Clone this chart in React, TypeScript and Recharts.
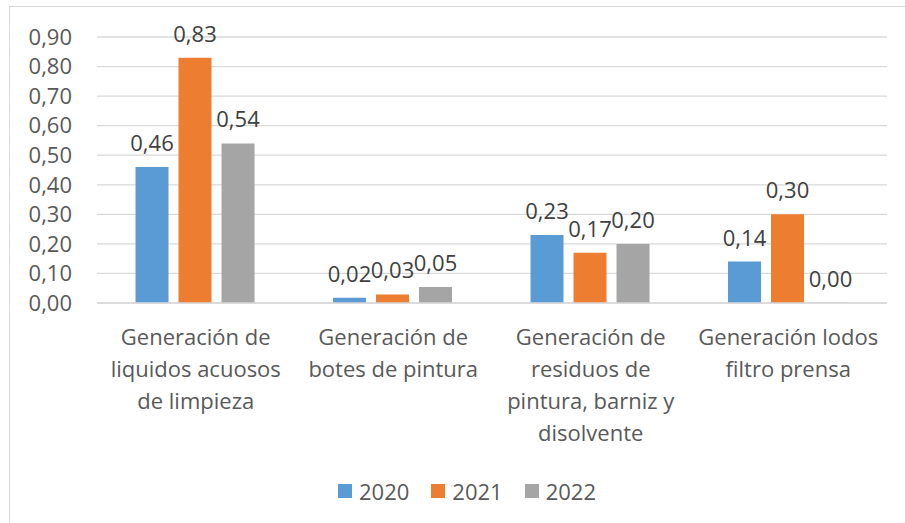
import { BarChart, Bar, XAxis, YAxis, CartesianGrid, Legend, LabelList } from "recharts";

const categories = [
  "Generación de\nliquidos acuosos\nde limpieza",
  "Generación de\nbotes de pintura",
  "Generación de\nresiduos de\npintura, barniz y\ndisolvente",
  "Generación lodos\nfiltro prensa",
];
const values2020 = [0.46, 0.018, 0.23, 0.14];
const values2021 = [0.83, 0.029, 0.17, 0.3];
const values2022 = [0.54, 0.054, 0.2, 0.001];
const yTicks = [0, 0.1, 0.2, 0.3, 0.4, 0.5, 0.6, 0.7, 0.8, 0.9];

const COLORS = { y2020: "#5B9BD5", y2021: "#ED7D31", y2022: "#A5A5A5" };
const FONT = "'Open Sans', sans-serif";
const TICK_COLOR = "#595959";
const FS = 22;

const data = categories.map((name, i) => ({
  name,
  y2020: values2020[i],
  y2021: values2021[i],
  y2022: values2022[i],
}));

const fmt = (v: unknown) => Number(v).toFixed(2).replace(".", ",");

function CategoryTick({ x, y, payload }: any) {
  const lines = String(payload.value).split("\n");
  return (
    <text x={x} y={y} textAnchor="middle" fill={TICK_COLOR} fontSize={FS} fontFamily={FONT}>
      {lines.map((line, i) => (
        <tspan key={i} x={x} dy={i === 0 ? 42 : 32}>
          {line}
        </tspan>
      ))}
    </text>
  );
}

function LegendContent() {
  const items = [
    { label: "2020", color: COLORS.y2020 },
    { label: "2021", color: COLORS.y2021 },
    { label: "2022", color: COLORS.y2022 },
  ];
  return (
    <div style={{ display: "flex", alignItems: "center", fontFamily: FONT, fontSize: FS, color: TICK_COLOR }}>
      {items.map((it) => (
        <div key={it.label} style={{ display: "flex", alignItems: "center", marginRight: 22 }}>
          <span style={{ width: 14, height: 14, background: it.color, display: "inline-block", marginRight: 7 }} />
          <span>{it.label}</span>
        </div>
      ))}
    </div>
  );
}

export default function App() {
  return (
    <div
      style={{
        position: "absolute",
        left: 0,
        top: 0,
        width: 905,
        height: 523,
        background: "white",
        overflow: "hidden",
      }}
    >
      <div
        style={{
          position: "absolute",
          left: 9,
          top: 6,
          width: 920,
          height: 540,
          borderTop: "1px solid #d9d9d9",
          borderLeft: "1px solid #d9d9d9",
        }}
      />
      <div style={{ position: "absolute", left: 0, top: 0 }}>
        <BarChart
          width={905}
          height={523}
          data={data}
          margin={{ top: 37, right: 18, left: 0, bottom: 70 }}
          barCategoryGap="19.5%"
          barGap={10}
        >
          <CartesianGrid vertical={false} stroke="#d9d9d9" strokeWidth={1.3} />
          <XAxis
            dataKey="name"
            axisLine={{ stroke: "#d9d9d9", strokeWidth: 1.3 }}
            tickLine={false}
            tickSize={0}
            tickMargin={0}
            height={150}
            interval={0}
            tick={<CategoryTick />}
          />
          <YAxis
            width={97}
            domain={[0, 0.9]}
            ticks={yTicks}
            interval={0}
            axisLine={false}
            tickLine={false}
            tickSize={0}
            tickMargin={25}
            tickFormatter={fmt}
            tick={{ fill: TICK_COLOR, fontSize: FS, fontFamily: FONT }}
          />
          <Legend
            layout="horizontal"
            verticalAlign="middle"
            align="center"
            content={<LegendContent />}
            wrapperStyle={{ left: 338, top: 476, width: 320, height: 28 }}
          />
          <Bar dataKey="y2020" name="2020" fill={COLORS.y2020} isAnimationActive={false}>
            <LabelList dataKey="y2020" position="top" offset={16} formatter={fmt} fill="#404040" fontSize={FS} fontFamily={FONT} />
          </Bar>
          <Bar dataKey="y2021" name="2021" fill={COLORS.y2021} isAnimationActive={false}>
            <LabelList dataKey="y2021" position="top" offset={16} formatter={fmt} fill="#404040" fontSize={FS} fontFamily={FONT} />
          </Bar>
          <Bar dataKey="y2022" name="2022" fill={COLORS.y2022} isAnimationActive={false}>
            <LabelList dataKey="y2022" position="top" offset={16} formatter={fmt} fill="#404040" fontSize={FS} fontFamily={FONT} />
          </Bar>
        </BarChart>
      </div>
    </div>
  );
}
